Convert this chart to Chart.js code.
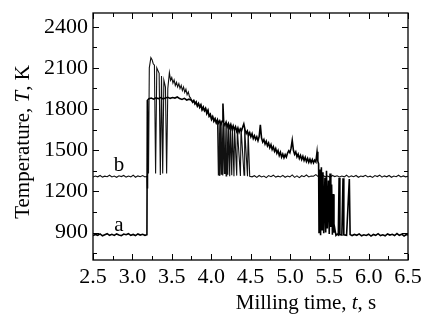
<!DOCTYPE html>
<html>
<head>
<meta charset="utf-8">
<script src="https://cdn.jsdelivr.net/npm/chart.js@4.4.1/dist/chart.umd.min.js"></script>
<style>
  html, body { margin: 0; padding: 0; background: #fff; }
  #wrap { width: 422px; height: 322px; position: relative; }
</style>
</head>
<body>
<div id="wrap"><canvas id="c" width="422" height="322"></canvas></div>
<script>
// ---- tick labels ----
const xTickValues = [2.5, 3.0, 3.5, 4.0, 4.5, 5.0, 5.5, 6.0, 6.5];
const yTickValues = [900, 1200, 1500, 1800, 2100, 2400];

// ---- curve a (milling time s, temperature K) ----
const timeA = [
  2.50,2.53,2.56,2.59,2.62,2.65,2.68,2.71,2.74,2.77,2.80,2.83,2.86,2.89,2.92,2.95,2.98,3.01,3.04,3.07,3.10,3.13,3.16,3.185,
  3.19,3.21,3.24,3.27,3.30,3.33,3.36,3.39,3.42,3.45,3.48,3.51,3.54,3.57,3.60,3.63,3.66,3.69,3.72,
  3.750,3.765,3.780,3.795,3.810,3.825,3.840,3.855,3.870,3.885,3.900,3.915,3.930,3.945,3.960,3.975,3.990,4.005,4.020,4.035,4.050,4.065,4.080,
  4.095,4.110,4.125,4.140,4.150,4.160,4.175,4.190,4.205,4.220,4.235,4.250,4.265,4.280,4.295,4.310,4.325,4.340,4.355,4.370,4.385,4.400,4.415,4.430,
  4.445,4.460,4.475,4.490,4.505,4.520,4.535,4.550,4.565,4.580,4.595,4.610,4.625,4.640,4.655,4.670,4.685,4.700,4.715,4.730,4.745,4.760,4.775,4.790,
  4.805,4.820,4.835,4.850,4.865,4.880,4.895,4.910,4.925,4.940,4.955,4.970,4.985,5.000,5.015,5.030,5.045,5.060,5.075,5.090,5.105,5.120,5.135,5.150,
  5.165,5.180,5.195,5.210,5.225,5.240,5.255,5.270,5.285,5.300,5.315,5.330,5.345,5.355,
  5.365,5.37,5.38,5.39,5.40,5.41,5.42,5.43,5.445,5.455,5.465,5.475,5.49,5.50,5.51,5.52,5.53,5.54,5.55,5.56,5.57,5.585,
  5.60,5.615,5.625,5.635,5.66,5.675,5.685,5.72,5.755,5.765,5.79,
  5.82,5.85,5.88,5.91,5.94,5.97,6.00,6.03,6.06,6.09,6.12,6.15,6.18,6.21,6.24,6.27,6.30,6.33,6.36,6.39,6.42,6.45,6.48,6.50
];
const tempA = [
  878,886,880,890,876,884,892,880,887,879,890,883,877,889,884,892,880,886,878,890,882,887,880,884,
  1862,1875,1880,1872,1882,1876,1884,1874,1880,1886,1878,1884,1880,1888,1876,1870,1878,1866,1872,
  1865,1850,1862,1838,1852,1822,1840,1812,1830,1795,1815,1788,1805,1768,1790,1748,1762,1725,1745,1712,1730,1700,1722,
  1698,1715,1690,1712,1840,1700,1682,1705,1672,1695,1665,1688,1655,1678,1648,1670,1638,1662,1630,1655,1640,1668,1692,1650,
  1622,1640,1608,1628,1598,1620,1585,1605,1578,1598,1570,1600,1685,1590,1560,1578,1545,1565,1532,1552,1518,1540,1505,1525,
  1492,1512,1478,1498,1462,1485,1450,1472,1445,1468,1450,1478,1495,1482,1515,1572,1500,1470,1488,1452,1472,1440,1462,1432,
  1455,1425,1448,1418,1440,1412,1435,1410,1432,1408,1428,1415,1488,1420,
  1400,900,1360,880,1375,920,1340,895,1300,900,1350,930,1280,890,1330,940,1250,885,1180,900,930,880,
  888,882,1300,885,882,1295,884,880,1290,886,878,
  886,880,890,876,884,879,888,874,886,880,892,878,884,876,890,882,887,878,893,880,888,875,886,882
];

// ---- curve b ----
const timeB = [
  2.50,2.53,2.56,2.59,2.62,2.65,2.68,2.71,2.74,2.77,2.80,2.83,2.86,2.89,2.92,2.95,2.98,3.01,3.04,3.07,3.10,3.13,3.16,3.185,
  3.19,3.195,3.205,3.215,3.235,3.25,3.265,3.28,3.295,3.31,3.325,3.34,3.355,3.37,3.385,3.40,3.42,3.435,3.45,
  3.470,3.485,3.500,3.515,3.530,3.545,3.560,3.575,3.590,3.605,3.620,3.635,3.650,3.665,3.680,3.695,3.710,3.725,3.740,
  3.750,3.765,3.780,3.795,3.810,3.825,3.840,3.855,3.870,3.885,3.900,3.915,3.930,3.945,3.960,3.975,3.990,4.005,4.020,4.035,4.050,4.065,4.080,
  4.092,4.100,4.110,4.118,4.128,4.136,4.148,4.156,4.168,4.176,4.190,4.198,4.212,4.220,4.236,4.244,4.262,4.270,4.290,4.298,
  4.325,4.333,4.372,4.380,4.418,4.426,4.462,4.470,4.490,
  4.52,4.55,4.58,4.61,4.64,4.67,4.70,4.73,4.76,4.79,4.82,4.85,4.88,4.91,4.94,4.97,5.00,5.03,5.06,5.09,5.12,5.15,5.18,5.21,5.24,5.27,5.30,5.33,5.36,5.39,
  5.42,5.45,5.48,5.51,5.54,5.57,5.60,5.63,5.66,5.69,5.72,5.75,5.78,5.81,5.84,5.87,5.90,5.93,5.96,5.99,6.02,6.05,6.08,6.11,6.14,6.17,6.20,6.23,6.26,6.29,
  6.32,6.35,6.38,6.41,6.44,6.47,6.50
];
const tempB = [
  1305,1312,1306,1316,1304,1311,1307,1318,1305,1312,1303,1314,1308,1316,1304,1312,1306,1318,1303,1313,1307,1315,1305,1310,
  1225,1860,1330,2100,2175,2160,2130,2120,1330,2100,2080,2060,1320,2040,1330,2010,1960,1330,1950,
  2065,2010,2030,1990,2012,1972,1995,1962,1985,1950,1972,1935,1960,1922,1945,1905,1925,1890,1880,
  1865,1850,1862,1838,1852,1822,1840,1812,1830,1795,1815,1788,1805,1768,1790,1748,1762,1725,1745,1712,1730,1700,1722,
  1320,1710,1312,1700,1325,1705,1315,1695,1330,1690,1312,1685,1322,1690,1310,1680,1318,1668,1310,1660,
  1315,1650,1312,1660,1318,1655,1310,1630,1310,
  1306,1314,1302,1316,1305,1312,1300,1315,1307,1318,1304,1311,1305,1317,1303,1312,1306,1320,1302,1313,1300,1314,1307,1319,1305,1312,1310,1322,1308,1300,
  1316,1306,1312,1303,1316,1308,1314,1305,1312,1306,1318,1304,1313,1307,1316,1303,1312,1308,1317,1305,1311,1302,1315,1308,1318,1304,1313,1306,1316,1303,
  1312,1307,1318,1305,1313,1306,1311
];

// ---- curve labels ----
const curveLabels = ['a', 'b'];
const curveLabelTime = [2.83, 2.83];
const curveLabelTemp = [910, 1345];

const toXY = (xs, ys) => xs.map((t, i) => ({ x: t, y: ys[i] }));
const serif = '"Liberation Serif", "Times New Roman", serif';

function midpoints(arr) {
  const out = [];
  for (let i = 0; i < arr.length - 1; i++) out.push((arr[i] + arr[i + 1]) / 2);
  return out;
}

const framePlugin = {
  id: 'frame',
  afterDatasetsDraw(chart) {
    const { ctx, chartArea: { left, right, top, bottom }, scales: { x, y } } = chart;
    ctx.save();
    ctx.strokeStyle = '#000';
    ctx.lineWidth = 1.3;
    ctx.strokeRect(left, top, right - left, bottom - top);
    ctx.lineWidth = 1;
    const seg = (x1, y1, x2, y2) => { ctx.beginPath(); ctx.moveTo(x1, y1); ctx.lineTo(x2, y2); ctx.stroke(); };
    const xMinor = midpoints(xTickValues);
    const yMinor = midpoints([600].concat(yTickValues).concat([2700])).filter(v => v > 700 && v < 2500);
    xTickValues.forEach(v => { const p = Math.round(x.getPixelForValue(v)) + 0.5; seg(p, bottom, p, bottom - 6); seg(p, top, p, top + 6); });
    xMinor.forEach(v => { const p = Math.round(x.getPixelForValue(v)) + 0.5; seg(p, bottom, p, bottom - 4); seg(p, top, p, top + 4); });
    yTickValues.forEach(v => { const p = Math.round(y.getPixelForValue(v)) + 0.5; seg(left, p, left + 6, p); seg(right, p, right - 6, p); });
    yMinor.forEach(v => { const p = Math.round(y.getPixelForValue(v)) + 0.5; seg(left, p, left + 4, p); seg(right, p, right - 4, p); });

    // curve labels
    ctx.fillStyle = '#000';
    ctx.font = '21px ' + serif;
    ctx.textAlign = 'center';
    ctx.textBaseline = 'alphabetic';
    curveLabels.forEach((s, i) => {
      ctx.fillText(s, x.getPixelForValue(curveLabelTime[i]), y.getPixelForValue(curveLabelTemp[i]));
    });
    ctx.restore();
  },
  afterDraw(chart) {
    const { ctx } = chart;
    const drawSegs = (segs, cx, cy) => {
      let total = 0;
      segs.forEach(s => { ctx.font = s[1] + ' 21px ' + serif; total += ctx.measureText(s[0]).width; });
      let xx = cx - total / 2;
      ctx.textAlign = 'left';
      ctx.textBaseline = 'alphabetic';
      segs.forEach(s => { ctx.font = s[1] + ' 21px ' + serif; ctx.fillText(s[0], xx, cy); xx += ctx.measureText(s[0]).width; });
    };
    ctx.save();
    ctx.fillStyle = '#000';
    drawSegs([['Milling time, ', 'normal'], ['t', 'italic'], [', s', 'normal']], 306, 309);
    ctx.translate(29, 142);
    ctx.rotate(-Math.PI / 2);
    drawSegs([['Temperature, ', 'normal'], ['T', 'italic'], [', K', 'normal']], 0, 0);
    ctx.restore();
  }
};

new Chart(document.getElementById('c'), {
  type: 'line',
  data: {
    datasets: [
      { label: 'a', data: toXY(timeA, tempA), borderColor: '#000', borderWidth: 1.6, pointRadius: 0, tension: 0 },
      { label: 'b', data: toXY(timeB, tempB), borderColor: '#111', borderWidth: 1.1, pointRadius: 0, tension: 0 }
    ]
  },
  options: {
    responsive: false,
    animation: false,
    devicePixelRatio: 1,
    layout: { padding: { left: 0, right: 14, top: 13, bottom: 0 } },
    plugins: { legend: { display: false }, tooltip: { enabled: false } },
    scales: {
      x: {
        type: 'linear', min: 2.5, max: 6.5,
        grid: { display: false, drawTicks: false },
        border: { display: false },
        afterBuildTicks: s => { s.ticks = xTickValues.map(v => ({ value: v })); },
        afterFit: s => { s.height = 62; s.paddingLeft = 0; s.paddingRight = 0; },
        ticks: {
          color: '#000', padding: 4, autoSkip: false, maxRotation: 0,
          font: { family: serif, size: 22 },
          callback: v => Number(v).toFixed(1)
        }
      },
      y: {
        type: 'linear', min: 700, max: 2500,
        grid: { display: false, drawTicks: false },
        border: { display: false },
        afterBuildTicks: s => { s.ticks = yTickValues.map(v => ({ value: v })); },
        afterFit: s => { s.width = 93; s.paddingTop = 0; s.paddingBottom = 0; },
        ticks: {
          color: '#000', padding: 5, autoSkip: false,
          font: { family: serif, size: 22 },
          callback: v => String(v)
        }
      }
    }
  },
  plugins: [framePlugin]
});
</script>
</body>
</html>
